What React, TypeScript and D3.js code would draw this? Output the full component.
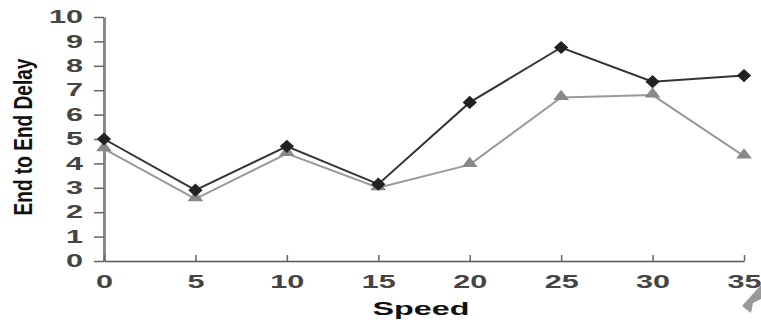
import { useEffect, useRef } from 'react';
import * as d3 from 'd3';

const speeds = [0, 5, 10, 15, 20, 25, 30, 35];
const delayA = [5.0, 2.9, 4.7, 3.15, 6.5, 8.75, 7.35, 7.6];
const delayB = [4.6, 2.55, 4.4, 3.0, 3.95, 6.7, 6.8, 4.3];
const yTicks = [0, 1, 2, 3, 4, 5, 6, 7, 8, 9, 10];
const xTicks = [0, 5, 10, 15, 20, 25, 30, 35];

export default function App() {
  const svgRef = useRef<SVGSVGElement>(null);

  useEffect(() => {
    const width = 761;
    const height = 322;
    const sx = 1.7; // the picture's text is stretched horizontally
    const svg = d3.select(svgRef.current);
    svg.selectAll('*').remove();
    svg.attr('width', width).attr('height', height);

    const x = d3.scaleLinear().domain([0, 35]).range([104, 744]);
    const y = d3.scaleLinear().domain([0, 10]).range([261, 17]);

    // axes
    const yAxis = svg.append('g')
      .attr('transform', 'translate(104,0)')
      .call(d3.axisLeft(y).tickValues(yTicks).tickSize(0).tickPadding(0));
    yAxis.select('.domain').attr('stroke', '#888').attr('stroke-width', 3);
    yAxis.selectAll('.tick line')
      .attr('stroke', '#666').attr('stroke-width', 1.5)
      .attr('x1', -10).attr('x2', 0);
    yAxis.selectAll('.tick text')
      .attr('fill', '#444')
      .attr('font-family', 'Liberation Sans, Arial, sans-serif')
      .attr('font-weight', 'bold')
      .attr('font-size', 18)
      .attr('x', -21 / sx)
      .attr('transform', `scale(${sx},1)`);

    const xAxis = svg.append('g')
      .attr('transform', 'translate(0,261)')
      .call(d3.axisBottom(x).tickValues(xTicks).tickSize(0).tickSizeOuter(0).tickPadding(0));
    xAxis.select('.domain').attr('stroke', '#555').attr('stroke-width', 1.5);
    xAxis.selectAll('.tick line').attr('stroke', '#666').attr('stroke-width', 1.5).attr('y1', -6).attr('y2', 0);
    xAxis.selectAll('.tick text')
      .attr('fill', '#444')
      .attr('font-family', 'Liberation Sans, Arial, sans-serif')
      .attr('font-weight', 'bold')
      .attr('font-size', 18)
      .attr('dy', 0)
      .attr('y', 27)
      .attr('transform', `scale(${sx},1)`);

    // axis titles
    svg.append('text')
      .attr('transform', 'translate(32,137) rotate(-90)')
      .attr('text-anchor', 'middle')
      .attr('font-family', 'Liberation Sans Narrow, Arial Narrow, Liberation Sans, sans-serif')
      .attr('font-weight', 'bold')
      .attr('font-size', 25)
      .attr('textLength', 157)
      .attr('lengthAdjust', 'spacingAndGlyphs')
      .attr('fill', '#111')
      .text('End to End Delay');

    svg.append('text')
      .attr('x', 421)
      .attr('y', 315)
      .attr('text-anchor', 'middle')
      .attr('font-family', 'Liberation Sans, Arial, sans-serif')
      .attr('font-weight', 'bold')
      .attr('font-size', 18)
      .attr('textLength', 97)
      .attr('lengthAdjust', 'spacingAndGlyphs')
      .attr('fill', '#111')
      .text('Speed');

    const line = d3.line<number>()
      .x((_, i) => x(speeds[i]))
      .y(d => y(d));

    // gray series (triangles)
    svg.append('path')
      .datum(delayB)
      .attr('fill', 'none')
      .attr('stroke', '#999')
      .attr('stroke-width', 2)
      .attr('d', line);

    // black series (diamonds)
    svg.append('path')
      .datum(delayA)
      .attr('fill', 'none')
      .attr('stroke', '#333')
      .attr('stroke-width', 2)
      .attr('d', line);

    const tri = d3.symbol().type(d3.symbolTriangle).size(75);
    svg.selectAll('.tri')
      .data(delayB)
      .enter()
      .append('path')
      .attr('class', 'tri')
      .attr('transform', (d, i) => `translate(${x(speeds[i])},${y(d) - 1}) scale(1.2,0.9)`)
      .attr('d', tri)
      .attr('fill', '#888');

    const dia = d3.symbol().type(d3.symbolDiamond).size(90);
    svg.selectAll('.dia')
      .data(delayA)
      .enter()
      .append('path')
      .attr('class', 'dia')
      .attr('transform', (d, i) => `translate(${x(speeds[i])},${y(d)}) scale(1.4,0.75)`)
      .attr('d', dia)
      .attr('fill', '#222');

    // corner arrow artifact
    svg.append('path')
      .attr('d', 'M742,306 L761,285 L761,299 L753,303 L751,313 Z')
      .attr('fill', '#999');
  }, []);

  return (
    <svg ref={svgRef} style={{ position: 'absolute', left: 0, top: 0, background: '#fff' }}></svg>
  );
}
